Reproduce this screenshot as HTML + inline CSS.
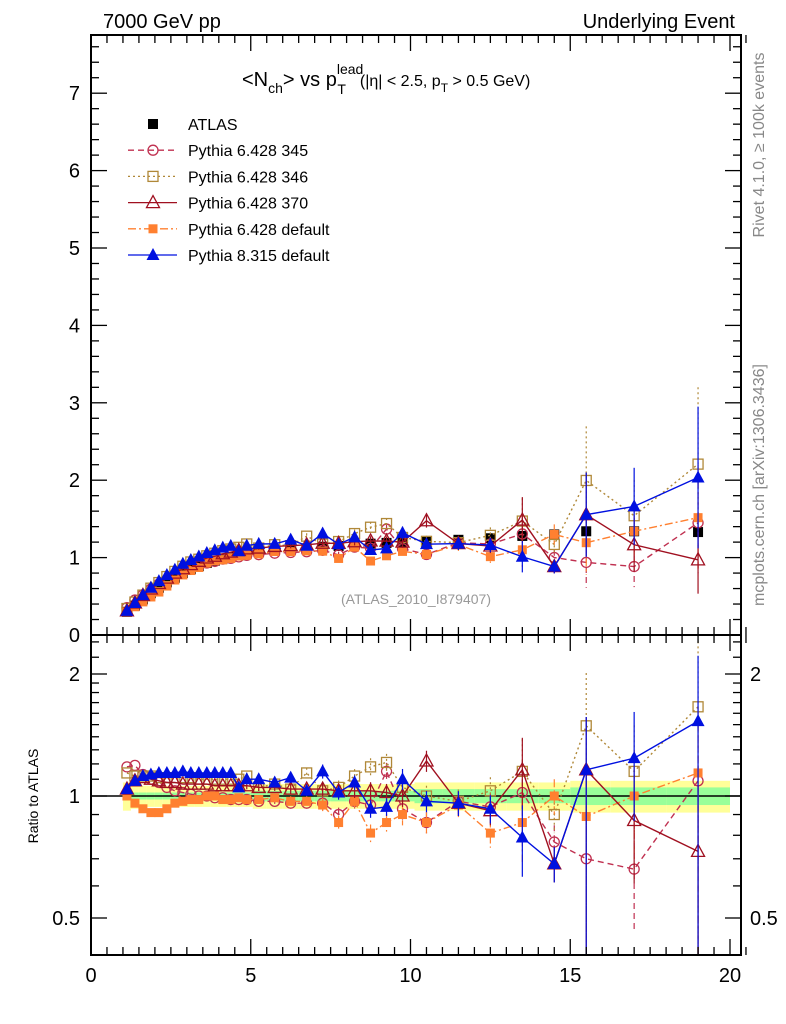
<!DOCTYPE html>
<html><head><meta charset="utf-8"><style>
body{margin:0;background:#fff;}
svg{display:block;font-family:"Liberation Sans",sans-serif;}
</style></head><body>
<svg id="c" width="786" height="1024" viewBox="0 0 786 1024" xmlns="http://www.w3.org/2000/svg">
<text x="103" y="28" font-size="20">7000 GeV pp</text>
<text x="735" y="28" font-size="20" text-anchor="end">Underlying Event</text>
<text transform="translate(764,145) rotate(-90)" font-size="16" fill="#888" text-anchor="middle">Rivet 4.1.0, ≥ 100k events</text>
<text transform="translate(764,485) rotate(-90)" font-size="16" fill="#888" text-anchor="middle">mcplots.cern.ch [arXiv:1306.3436]</text>
<text x="242" y="86" font-size="20">&lt;N<tspan font-size="14" dy="7">ch</tspan><tspan dy="-7">&gt; vs p</tspan><tspan font-size="14" dy="-12">lead</tspan><tspan font-size="14" dx="-26" dy="20">T</tspan><tspan font-size="16" dx="14" dy="-8">(|η| &lt; 2.5, p</tspan><tspan font-size="12" dy="6">T</tspan><tspan font-size="16" dy="-6"> &gt; 0.5 GeV)</tspan></text>
<text x="416" y="604" font-size="14" fill="#999" text-anchor="middle">(ATLAS_2010_I879407)</text>
<text transform="translate(38,796) rotate(-90)" font-size="14" text-anchor="middle">Ratio to ATLAS</text>
<g id="g"></g>
</svg>
<script>
const xs=[1.125,1.375,1.625,1.875,2.125,2.375,2.625,2.875,3.125,3.375,3.625,3.875,4.125,4.375,4.625,4.875,5.25,5.75,6.25,6.75,7.25,7.75,8.25,8.75,9.25,9.75,10.5,11.5,12.5,13.5,14.5,15.5,17,19];
const atlas=[0.30,0.38,0.46,0.54,0.61,0.68,0.74,0.80,0.85,0.89,0.93,0.96,0.99,1.01,1.03,1.05,1.07,1.09,1.11,1.12,1.14,1.15,1.17,1.18,1.19,1.20,1.21,1.23,1.25,1.28,1.30,1.34,1.34,1.33];
const bandStat=[0.02,0.02,0.02,0.02,0.02,0.02,0.02,0.02,0.02,0.02,0.02,0.02,0.02,0.02,0.02,0.02,0.03,0.03,0.03,0.03,0.03,0.03,0.03,0.03,0.03,0.03,0.04,0.04,0.04,0.04,0.04,0.05,0.05,0.05];
const bandTot=[0.08,0.07,0.06,0.06,0.06,0.06,0.06,0.06,0.06,0.06,0.06,0.06,0.06,0.06,0.06,0.06,0.07,0.07,0.07,0.07,0.07,0.07,0.07,0.07,0.07,0.07,0.08,0.08,0.08,0.08,0.08,0.09,0.09,0.09];
const r345=[1.18,1.19,1.13,1.10,1.08,1.05,1.03,1.02,1.01,1.00,1.00,0.99,0.99,0.98,0.98,0.98,0.97,0.97,0.96,0.96,0.96,0.90,0.97,0.95,1.15,0.93,0.86,0.97,0.94,1.02,0.77,0.70,0.66,1.09];
const r346=[1.14,1.12,1.12,1.12,1.11,1.11,1.11,1.11,1.11,1.10,1.10,1.10,1.10,1.10,1.10,1.12,1.05,1.07,1.04,1.14,1.03,1.05,1.12,1.18,1.21,1.05,1.00,0.97,1.03,1.15,0.90,1.49,1.15,1.66];
const r370=[1.04,1.09,1.11,1.10,1.09,1.08,1.08,1.07,1.07,1.07,1.07,1.06,1.06,1.06,1.06,1.06,1.05,1.05,1.04,1.04,1.04,1.03,1.03,1.03,1.02,1.00,1.22,0.96,0.92,1.16,0.68,1.16,0.87,0.73];
const rDef=[1.00,0.96,0.93,0.91,0.91,0.93,0.96,0.97,0.98,0.98,1.00,1.00,0.98,0.98,0.99,0.98,0.98,0.99,0.97,0.97,0.95,0.86,0.97,0.81,0.86,0.90,0.86,0.95,0.81,0.86,1.00,0.89,1.00,1.14];
const r8=[1.04,1.09,1.12,1.13,1.14,1.14,1.14,1.15,1.14,1.14,1.14,1.14,1.14,1.14,1.05,1.10,1.10,1.08,1.11,1.03,1.15,1.02,1.08,0.93,0.94,1.10,0.97,0.96,0.93,0.79,0.68,1.16,1.24,1.53];
const mcErr=[0.01,0.01,0.01,0.01,0.01,0.01,0.01,0.01,0.01,0.01,0.01,0.01,0.01,0.01,0.01,0.02,0.02,0.02,0.03,0.03,0.04,0.04,0.04,0.05,0.05,0.06,0.06,0.07,0.08,0.2,0.1,0.35,0.3,0.45];
const xTicks=[0,5,10,15,20];
const yTicks=[0,1,2,3,4,5,6,7];
const rTicks=[0.5,1,2];
const rTicksRight=[0.5,2];

const L=91,R=741,T=35,M=635,B=955;
const X=v=>L+v*(730-L)/20;
const Y=v=>M-v*77.4;
const RY=r=>796-Math.log2(r)*122;
const g=document.getElementById('g');
const NS='http://www.w3.org/2000/svg';
function el(t,a,p){const e=document.createElementNS(NS,t);for(const k in a)e.setAttribute(k,a[k]);(p||g).appendChild(e);return e;}

const bg=el('g',{});


const edges=xs.map((x,i)=>i==0?1.0:(xs[i-1]+x)/2);
edges.push(20);
xs.forEach((x,i)=>{
  const x0=Math.max(X(edges[i]),L),x1=X(i==xs.length-1?20:(x+xs[i+1])/2);
  el('rect',{x:x0,y:RY(1+bandTot[i]),width:x1-x0,height:RY(1-bandTot[i])-RY(1+bandTot[i]),fill:'#ffff99'},bg);
  el('rect',{x:x0,y:RY(1+bandStat[i]),width:x1-x0,height:RY(1-bandStat[i])-RY(1+bandStat[i]),fill:'#99ff99'},bg);
});
el('line',{x1:L,x2:R,y1:RY(1),y2:RY(1),stroke:'#000','stroke-width':1.5});

const series=[
 {name:'pythia6-345',r:r345,c:'#c03050',dash:'6,4',m:'circle'},
 {name:'pythia6-346',r:r346,c:'#b08838',dash:'2,3',m:'osquare'},
 {name:'pythia6-default',r:rDef,c:'#ff8030',dash:'8,3,2,3',m:'fsquare'},
 {name:'pythia6-370',r:r370,c:'#a01020',dash:'',m:'otri'},
 {name:'pythia8-default',r:r8,c:'#0010e0',dash:'',m:'ftri'}
];
function marker(p,m,x,y,c){
  if(m=='circle')el('circle',{cx:x,cy:y,r:5,fill:'none',stroke:c,'stroke-width':1.3},p);
  if(m=='osquare')el('rect',{x:x-5,y:y-5,width:10,height:10,fill:'none',stroke:c,'stroke-width':1.3},p);
  if(m=='fsquare')el('rect',{x:x-4.5,y:y-4.5,width:9,height:9,fill:c},p);
  if(m=='otri')el('path',{d:`M${x},${y-7}L${x+6.5},${y+5}L${x-6.5},${y+5}Z`,fill:'none',stroke:c,'stroke-width':1.3},p);
  if(m=='ftri')el('path',{d:`M${x},${y-7}L${x+6.5},${y+5}L${x-6.5},${y+5}Z`,fill:c},p);
  if(m=='black')el('rect',{x:x-5,y:y-5,width:10,height:10,fill:'#000'},p);
}
function clip(y,lo,hi){return Math.max(lo,Math.min(hi,y));}
const ag=el('g',{});


xs.forEach((x,i)=>marker(ag,'black',X(x),Y(atlas[i]),'#000'));
series.forEach(s=>{
  const sg=el('g',{});
  
  
  const mp=xs.map((x,i)=>[X(x),Y(s.r[i]*atlas[i])]);
  const rp=xs.map((x,i)=>[X(x),RY(s.r[i])]);
  el('polyline',{points:mp.map(p=>p.join(',')).join(' '),fill:'none',stroke:s.c,'stroke-width':1.4,'stroke-dasharray':s.dash},sg);
  el('polyline',{points:rp.map(p=>p.join(',')).join(' '),fill:'none',stroke:s.c,'stroke-width':1.4,'stroke-dasharray':s.dash},sg);
  xs.forEach((x,i)=>{
    const e=mcErr[i],v=s.r[i]*atlas[i];
    if(e>0.015){
      el('line',{x1:X(x),x2:X(x),y1:clip(Y(v*(1+e)),T,M),y2:clip(Y(v*(1-e)),T,M),stroke:s.c,'stroke-width':1.2,'stroke-dasharray':s.dash},sg);
      el('line',{x1:X(x),x2:X(x),y1:clip(RY(s.r[i]+e*s.r[i]),M,B),y2:clip(RY(Math.max(s.r[i]-e*s.r[i]*(e>0.3?2:1),0.3)),M,B),stroke:s.c,'stroke-width':1.2,'stroke-dasharray':s.dash},sg);
    }
    marker(sg,s.m,X(x),Y(v),s.c);
    marker(sg,s.m,X(x),RY(s.r[i]),s.c);
  });
});

el('rect',{x:L,y:T,width:R-L,height:M-T,fill:'none',stroke:'#000','stroke-width':2});
el('rect',{x:L,y:M,width:R-L,height:B-M,fill:'none',stroke:'#000','stroke-width':2});
for(let v=0;v<=20.51;v+=0.5){
  const maj=Math.abs(v%5)<1e-6, len=maj?16:8;
  [T,M].forEach(y0=>el('line',{x1:X(v),x2:X(v),y1:y0,y2:y0+len,stroke:'#000','stroke-width':1.3}));
  [M,B].forEach(y0=>el('line',{x1:X(v),x2:X(v),y1:y0,y2:y0-len,stroke:'#000','stroke-width':1.3}));
}
xTicks.forEach(v=>{const t=el('text',{x:X(v),y:B+27,'font-size':20,'text-anchor':'middle'});t.textContent=v;

});
for(let v=0;v<=7.7;v+=0.2){
  const maj=Math.abs(v-Math.round(v))<1e-6,len=maj?16:8,y=Y(v);
  el('line',{x1:L,x2:L+len,y1:y,y2:y,stroke:'#000','stroke-width':1.3});
  el('line',{x1:R,x2:R-len,y1:y,y2:y,stroke:'#000','stroke-width':1.3});
}
yTicks.forEach(v=>{const t=el('text',{x:80,y:Y(v)+7,'font-size':20,'text-anchor':'end'});t.textContent=v;

});
[0.5,0.6,0.7,0.8,0.9,1,1.1,1.2,1.3,1.4,1.5,1.6,1.7,1.8,1.9,2,2.2,2.4].forEach(v=>{
  const maj=rTicks.includes(v),len=maj?16:8,y=RY(v);
  el('line',{x1:L,x2:L+len,y1:y,y2:y,stroke:'#000','stroke-width':1.3});
  el('line',{x1:R,x2:R-len,y1:y,y2:y,stroke:'#000','stroke-width':1.3});
});
rTicks.forEach(v=>{
  const t=el('text',{x:80,y:RY(v)+7,'font-size':20,'text-anchor':'end'});t.textContent=v;
  
  
});
rTicksRight.forEach(v=>{
  const t2=el('text',{x:750,y:RY(v)+7,'font-size':20});t2.textContent=v;
  
  
});
const lg=el('g',{});


const leg=[['ATLAS',null],['Pythia 6.428 345',series[0]],['Pythia 6.428 346',series[1]],['Pythia 6.428 370',series[3]],['Pythia 6.428 default',series[2]],['Pythia 8.315 default',series[4]]];
leg.forEach((l,i)=>{
  const y=124+i*26.2;
  const eg=el('g',{},lg);
  
  
  if(l[1]){el('line',{x1:128,x2:177,y1:y,y2:y,stroke:l[1].c,'stroke-width':1.3,'stroke-dasharray':l[1].dash},eg);marker(eg,l[1].m,153,y,l[1].c);}
  else marker(eg,'black',153,y,'#000');
  const t=el('text',{x:188,y:y+6,'font-size':16},eg);t.textContent=l[0];
});
</script>
</body></html>
